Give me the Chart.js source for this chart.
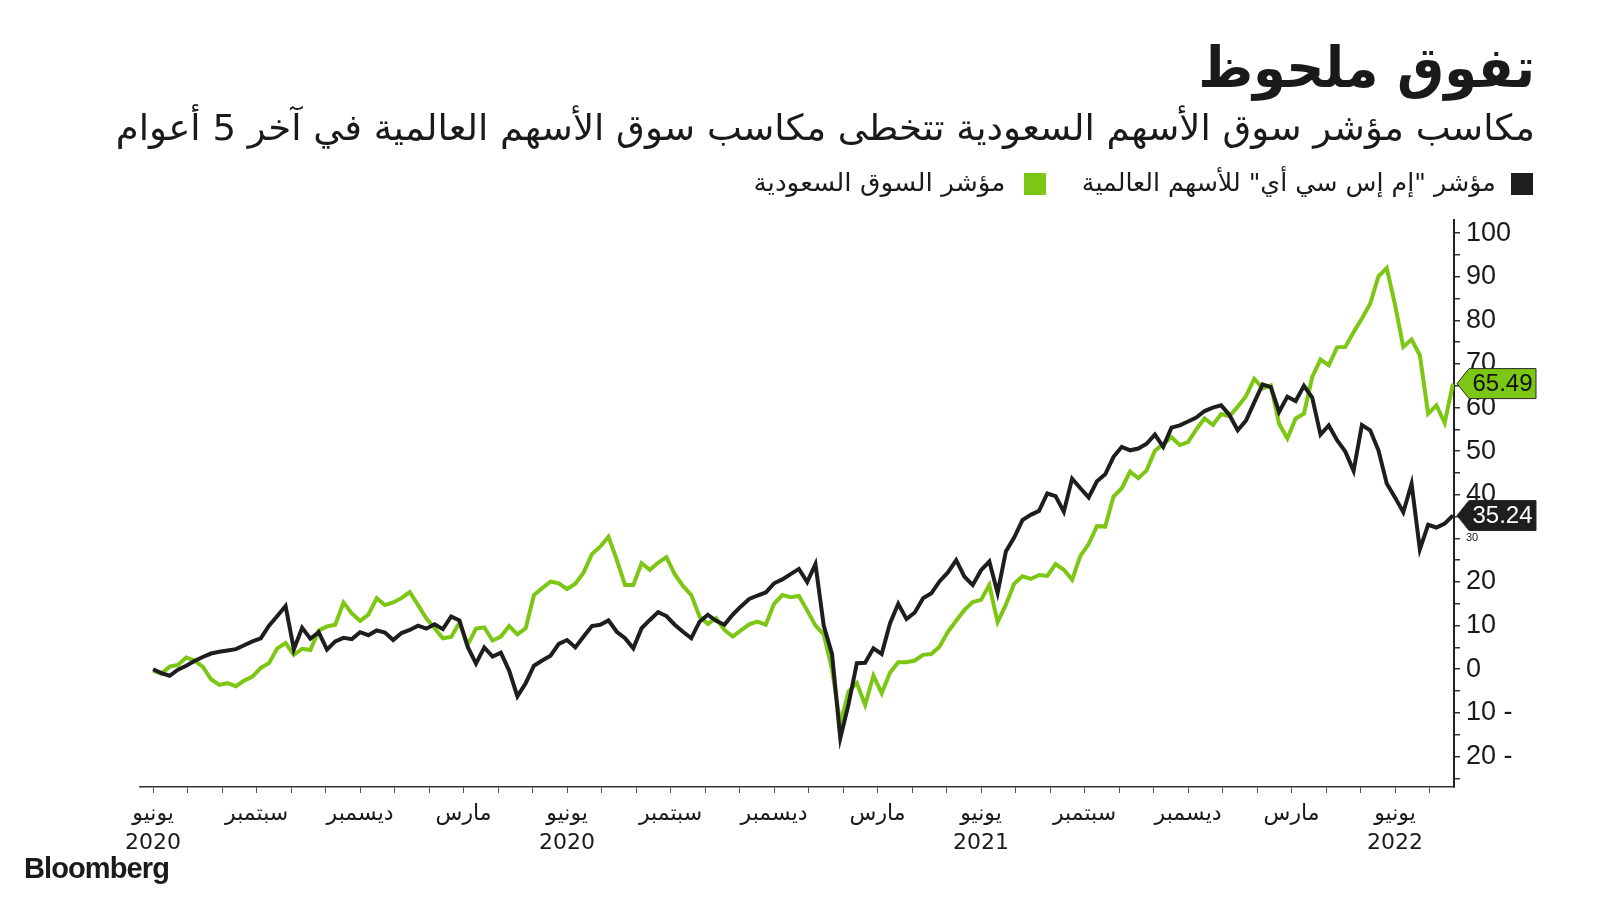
<!DOCTYPE html>
<html lang="ar">
<head>
<meta charset="utf-8">
<title>تفوق ملحوظ</title>
<script src="https://cdn.jsdelivr.net/npm/chart.js@4"></script>
<style>
  body { margin: 0; background: #fff; }
  #wrap { position: relative; width: 1600px; height: 900px; overflow: hidden; font-family: "DejaVu Sans", sans-serif; color: #1a1a1a; }
  #chart { position: absolute; left: 0; top: 0; }
  .txt { position: absolute; white-space: nowrap; direction: rtl; line-height: 1; transform-origin: right center; }
  #title { right: 65px; top: 40px; font-size: 56px; font-weight: bold; }
  #subtitle { right: 65px; top: 110px; font-size: 36px; }
  .key { position: absolute; top: 173px; width: 22px; height: 22px; }
  #key1 { left: 1511px; background: #1e1e1e; }
  #key2 { left: 1024px; background: #7cc614; }
  #leg1 { right: 104px; top: 170px; font-size: 25px; }
  #leg2 { right: 595px; top: 170px; font-size: 25px; }
  #source { position: absolute; left: 24px; top: 852px; font: bold 29px "Liberation Sans", Arial, sans-serif; letter-spacing: -0.9px; }
</style>
</head>
<body>
<div id="wrap">
  <canvas id="chart" width="1600" height="900"></canvas>
  <div class="txt" id="title" data-w="337">تفوق ملحوظ</div>
  <div class="txt" id="subtitle" data-w="1419">مكاسب مؤشر سوق الأسهم السعودية تتخطى مكاسب سوق الأسهم العالمية في آخر 5 أعوام</div>
  <div class="key" id="key1"></div>
  <div class="txt" id="leg1" data-w="414">مؤشر "إم إس سي أي" للأسهم العالمية</div>
  <div class="key" id="key2"></div>
  <div class="txt" id="leg2" data-w="252">مؤشر السوق السعودية</div>
  <div id="source">Bloomberg</div>
</div>
<script>
// weekly readings, % change since start (June)
const msciWorld = [
  0, -0.9, -1.5, -0.1, 0.8, 1.9, 2.8, 3.6, 4.0, 4.3,
  4.6, 5.5, 6.4, 7.1, 10.0, 12.2, 14.5, 4.6, 9.5, 7.0,
  8.5, 4.5, 6.4, 7.2, 6.9, 8.5, 7.8, 8.9, 8.4, 6.7,
  8.3, 9.0, 10.0, 9.3, 10.3, 9.2, 12.1, 11.2, 5.1, 1.3,
  5.0, 2.9, 3.8, -0.3, -6.2, -3.2, 0.8, 2.0, 3.1, 5.8,
  6.7, 5.0, 7.5, 9.9, 10.2, 11.2, 8.6, 7.1, 4.8, 9.4,
  11.3, 13.1, 12.2, 10.2, 8.6, 7.1, 10.9, 12.5, 11.1, 10.2,
  12.5, 14.4, 16.1, 16.9, 17.6, 19.7, 20.6, 21.8, 23.0, 20.0,
  24.1, 10.0, 3.5, -15.8, -8.0, 1.4, 1.5, 4.8, 3.5, 10.5,
  15.0, 11.5, 13.0, 16.3, 17.4, 20.2, 22.2, 25.0, 21.2, 19.3,
  22.7, 24.7, 17.5, 27.0, 30.2, 34.2, 35.4, 36.3, 40.3, 39.7,
  36.1, 43.7, 41.5, 39.4, 43.1, 44.7, 48.7, 51.0, 50.2, 50.6,
  51.7, 53.8, 51.0, 55.4, 55.9, 56.8, 57.7, 59.2, 60.0, 60.5,
  58.3, 54.8, 57.0, 61.2, 65.3, 64.7, 59.0, 62.5, 61.5, 65.0,
  62.3, 53.8, 55.9, 52.5, 49.9, 45.5, 56.0, 54.8, 50.2, 42.6,
  39.4, 36.0, 42.5, 27.5, 33.1, 32.5, 33.4, 35.24
];
const saudiMarket = [
  -0.3, -1.0, 0.6, 1.0, 2.7, 2.0, 0.6, -2.3, -3.6, -3.2,
  -3.9, -2.6, -1.7, 0.3, 1.4, 4.8, 6.0, 3.3, 4.7, 4.4,
  8.9, 9.8, 10.2, 15.3, 12.8, 11.1, 12.5, 16.3, 14.7, 15.3,
  16.3, 17.7, 14.7, 11.7, 9.4, 7.1, 7.4, 10.7, 5.6, 9.3,
  9.6, 6.6, 7.5, 9.9, 8.0, 9.4, 17.0, 18.6, 20.1, 19.7,
  18.4, 19.6, 22.2, 26.4, 28.1, 30.4, 25.1, 19.3, 19.3, 24.3,
  22.8, 24.4, 25.7, 21.8, 19.1, 17.0, 12.1, 10.4, 11.7, 9.0,
  7.5, 8.9, 10.3, 10.9, 10.2, 15.0, 17.0, 16.5, 16.8, 13.5,
  10.0, 8.0, 0.0, -12.5, -5.1, -3.2, -8.2, -1.5, -5.5, -0.8,
  1.6, 1.6, 2.0, 3.3, 3.5, 5.2, 8.6, 11.1, 13.6, 15.4,
  15.9, 19.3, 10.8, 14.8, 19.6, 21.3, 20.7, 21.6, 21.4, 24.1,
  22.8, 20.5, 26.0, 28.7, 32.8, 32.7, 39.6, 41.5, 45.3, 43.8,
  45.6, 50.1, 51.6, 53.2, 51.4, 52.1, 55.0, 57.5, 56.0, 58.5,
  58.0, 60.2, 62.6, 66.6, 64.4, 65.1, 56.3, 52.9, 57.5, 58.6,
  67.0, 71.0, 69.7, 73.8, 73.9, 77.3, 80.4, 83.8, 90.1, 92.0,
  83.6, 73.9, 75.6, 72.0, 58.6, 60.5, 56.5, 65.49
];
// x axis: months counted from the first reading, one label every 3 months
const quarterLabels = [
  ['يونيو', '2020'], 'سبتمبر', 'ديسمبر', 'مارس',
  ['يونيو', '2020'], 'سبتمبر', 'ديسمبر', 'مارس',
  ['يونيو', '2021'], 'سبتمبر', 'ديسمبر', 'مارس',
  ['يونيو', '2022']
];
const monthTicks = [...Array(38).keys()];
const yTicks = [-25, -20, -15, -10, -5, 0, 5, 10, 15, 20, 25, 30, 35, 40, 45, 50, 55, 60, 65, 70, 75, 80, 85, 90, 95, 100];
const STEP = 0.24; // months between readings

const BLACK = '#1e1e1e';
const GREEN = '#7cc614';

const toPoints = arr => arr.map((v, i) => ({ x: i * STEP, y: v }));

// value tag at the right end of each line
const lastValueTags = {
  id: 'lastValueTags',
  afterDatasetsDraw(chart) {
    const { ctx, chartArea, scales: { y } } = chart;
    chart.data.datasets.forEach(ds => {
      const v = ds.data[ds.data.length - 1].y;
      const py = y.getPixelForValue(v);
      const x0 = chartArea.right + 3, w = 79, h = 30;
      ctx.save();
      ctx.beginPath();
      ctx.moveTo(x0, py);
      ctx.lineTo(x0 + 12, py - h / 2);
      ctx.lineTo(x0 + w, py - h / 2);
      ctx.lineTo(x0 + w, py + h / 2);
      ctx.lineTo(x0 + 12, py + h / 2);
      ctx.closePath();
      ctx.fillStyle = ds.borderColor;
      ctx.fill();
      ctx.lineWidth = 1;
      ctx.strokeStyle = '#2a2a2a';
      ctx.stroke();
      ctx.fillStyle = ds.tagText;
      ctx.font = '24px "Liberation Sans", Arial, sans-serif';
      ctx.textAlign = 'center';
      ctx.textBaseline = 'middle';
      ctx.fillText(v.toFixed(2), x0 + 12 + (w - 12) / 2, py + 1);
      ctx.restore();
    });
  }
};

new Chart(document.getElementById('chart'), {
  type: 'line',
  data: {
    datasets: [
      { label: 'msci', data: toPoints(msciWorld), borderColor: BLACK, tagText: '#ffffff',
        borderWidth: 4, pointRadius: 0, tension: 0 },
      { label: 'saudi', data: toPoints(saudiMarket), borderColor: GREEN, tagText: '#111111',
        borderWidth: 4, pointRadius: 0, tension: 0 }
    ]
  },
  options: {
    responsive: false,
    animation: false,
    devicePixelRatio: 1,
    layout: { padding: { left: 140, top: 220, right: 46, bottom: 43 } },
    plugins: { legend: { display: false }, title: { display: false }, tooltip: { enabled: false } },
    scales: {
      x: {
        type: 'linear',
        min: -0.38,
        max: 37.71,
        afterBuildTicks: scale => { scale.ticks = monthTicks.map(m => ({ value: m })); },
        afterFit: scale => { scale.height = 70; },
        border: { display: true, color: '#333', width: 1.5 },
        grid: { drawOnChartArea: false, drawTicks: true, tickLength: 6, color: '#555', lineWidth: 1 },
        ticks: {
          autoSkip: false, maxRotation: 0, padding: 7, color: '#1a1a1a',
          font: { family: '"DejaVu Sans", sans-serif', size: 22, lineHeight: 1.3 },
          callback: v => (v % 3 === 0 ? quarterLabels[v / 3] : '')
        }
      },
      y: {
        position: 'right',
        min: -27,
        max: 103,
        afterBuildTicks: scale => { scale.ticks = yTicks.map(v => ({ value: v })); },
        afterFit: scale => { scale.width = 100; },
        border: { display: true, color: '#222', width: 2 },
        grid: { drawOnChartArea: false, drawTicks: true, tickLength: 6, color: '#333', lineWidth: 1.5 },
        ticks: {
          autoSkip: false, padding: 6, color: '#1a1a1a',
          font: ctx => ({ family: '"Liberation Sans", Arial, sans-serif', size: ctx.tick && ctx.tick.value === 30 ? 11 : 27 }),
          callback: v => (v % 10 !== 0 ? '' : v < 0 ? `${-v} -` : `${v}`)
        }
      }
    }
  },
  plugins: [lastValueTags]
});

// squeeze the headings to the reference widths
document.querySelectorAll('.txt[data-w]').forEach(el => {
  const w = el.getBoundingClientRect().width;
  el.style.transform = `scaleX(${el.dataset.w / w})`;
});
</script>
</body>
</html>
